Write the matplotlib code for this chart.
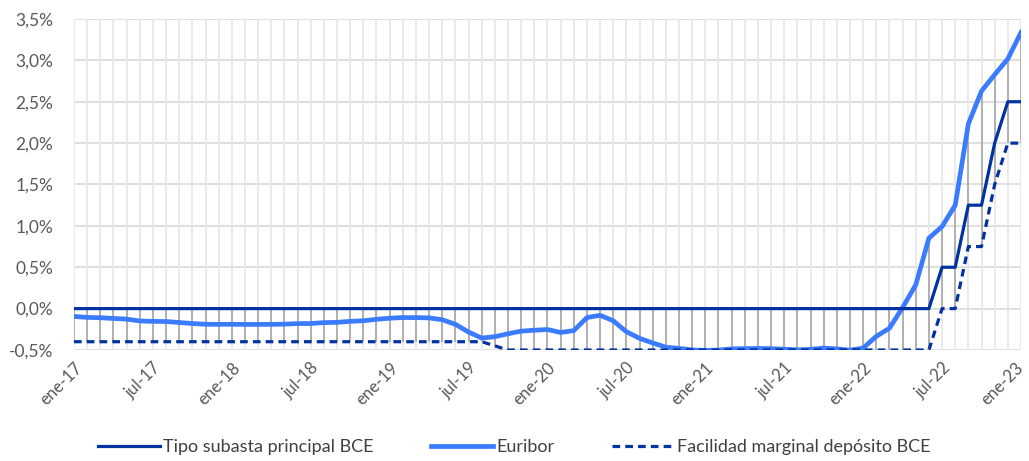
import numpy as np
import matplotlib.pyplot as plt
import matplotlib.transforms as mtransforms
from matplotlib.ticker import FuncFormatter

plt.rcParams['font.family'] = ['Lato', 'DejaVu Sans']

years = ['17', '18', '19', '20', '21', '22']
months = ['ene', 'feb', 'mar', 'abr', 'may', 'jun', 'jul', 'ago', 'sep', 'oct', 'nov', 'dic']
labels = [f'{m}-{y}' for y in years for m in months] + ['ene-23']

euribor = [-0.095, -0.106, -0.110, -0.119, -0.127, -0.149, -0.154, -0.156, -0.168, -0.180, -0.189, -0.190,
           -0.189, -0.191, -0.191, -0.190, -0.188, -0.181, -0.180, -0.169, -0.166, -0.154, -0.147, -0.129,
           -0.116, -0.108, -0.109, -0.112, -0.134, -0.190, -0.283, -0.356, -0.339, -0.304, -0.272, -0.261,
           -0.253, -0.288, -0.266, -0.108, -0.081, -0.147, -0.279, -0.359, -0.415, -0.466, -0.481, -0.499,
           -0.505, -0.501, -0.487, -0.484, -0.481, -0.484, -0.491, -0.498, -0.492, -0.477, -0.487, -0.502,
           -0.477, -0.335, -0.237, 0.013, 0.287, 0.852, 0.992, 1.249, 2.233, 2.629, 2.828, 3.018,
           3.337]

subasta = [0.0] * 66 + [0.5, 0.5, 1.25, 1.25, 2.0, 2.5, 2.5]

deposito = [-0.4] * 32 + [-0.45] + [-0.5] * 33 + [0.0, 0.0, 0.75, 0.75, 1.5, 2.0, 2.0]

x = np.arange(len(labels))
dark = '#0033A0'
light = '#3A7BFF'

fig = plt.figure(figsize=(10.29, 4.61), dpi=100)
ax = fig.add_axes([0.0719, 0.2408, 0.9203, 0.718])

# grid
for v in np.arange(-0.5, 3.51, 0.5):
    ax.axhline(v, color='#D9D9D9', linewidth=1.2, zorder=0)
for xi in x:
    ax.axvline(xi, color='#E8E8E8', linewidth=1.3, zorder=0)

# high-low lines
hi = np.max([euribor, subasta, deposito], axis=0)
lo = np.min([euribor, subasta, deposito], axis=0)
ax.vlines(x, lo, hi, color='#A6A6A6', linewidth=1.2, zorder=1)

ax.plot(x, subasta, color=dark, linewidth=2.3, label='Tipo subasta principal BCE', zorder=3)
ax.plot(x, euribor, color=light, linewidth=3.4, label='Euribor', zorder=2)
ax.plot(x, deposito, color=dark, linewidth=2.3, dashes=(2.4, 1.6), label='Facilidad marginal depósito BCE', zorder=3)

ax.set_xlim(0, len(labels) - 1)
ax.set_ylim(-0.5, 3.5)
ax.set_yticks(np.arange(-0.5, 3.51, 0.5))
ax.yaxis.set_major_formatter(FuncFormatter(lambda v, p: f'{v:.1f}%'.replace('.', ',')))
ax.set_xticks(x[::6])
ax.set_xticklabels(labels[::6], rotation=45, ha='right', va='top', rotation_mode='anchor')

for s in ax.spines.values():
    s.set_visible(False)
ax.tick_params(length=0, colors='#595959', labelsize=12.5)
ax.tick_params(axis='x', pad=7, labelsize=12)
ax.tick_params(axis='y', pad=15)

# keep the last label inside the figure
last = ax.get_xticklabels()[-1]
last.set_transform(last.get_transform() + mtransforms.ScaledTranslation(-6 / 100, 0, fig.dpi_scale_trans))

leg = fig.legend(loc='center', bbox_to_anchor=(0.5, 0.03), ncol=3, frameon=False,
                 fontsize=13, handlelength=3.4, columnspacing=3.2, handletextpad=0.2)
for t in leg.get_texts():
    t.set_color('#404040')

fig.savefig('out.png', dpi=100)
